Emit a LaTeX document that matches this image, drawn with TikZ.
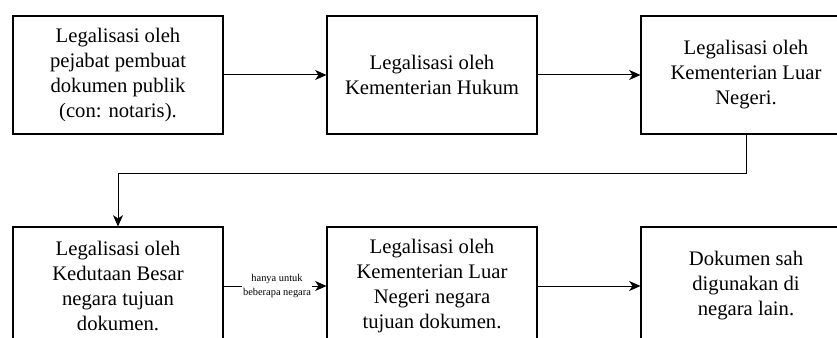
\documentclass[tikz,border=0pt]{standalone}
\usepackage{fontspec}
\setmainfont{Liberation Serif}
\usetikzlibrary{arrows.meta}

\begin{document}
\begin{tikzpicture}[
    x=0.75pt, y=-0.75pt,
    stepbox/.style={draw, line width=0.8pt, minimum width=157.5pt, minimum height=88.5pt,
        inner sep=0pt, align=center, font=\fontsize{15.5}{18.75}\selectfont},
    arrow/.style={-{Stealth[length=8.5pt, width=7.5pt, inset=2.5pt]}, line width=0.75pt},
    note/.style={fill=white, inner sep=1pt, align=center, font=\fontsize{7.8}{10.5}\selectfont}
]
\useasboundingbox (0,0) rectangle (837,338);
\clip (0,0) rectangle (837,338);

% top row
\node[stepbox] (notaris) at (118,75) {Legalisasi oleh\\pejabat pembuat\\dokumen publik\\(con: notaris).};
\node[stepbox] (kemkum) at (432,75) {Legalisasi oleh\\Kementerian Hukum};
\node[stepbox] (kemlu) at (746,75) {Legalisasi oleh\\Kementerian Luar\\Negeri.};

% bottom row
\node[stepbox] (kedubes) at (118,286) {Legalisasi oleh\\Kedutaan Besar\\negara tujuan\\dokumen.};
\node[stepbox] (kemlutujuan) at (432,286) {Legalisasi oleh\\Kementerian Luar\\Negeri negara\\tujuan dokumen.};
\node[stepbox] (sah) at (746,286) {Dokumen sah\\digunakan di\\negara lain.};

\draw[arrow] (notaris) -- (kemkum);
\draw[arrow] (kemkum) -- (kemlu);
\draw[arrow] (kemlu.south) -- ++(0,39) -| (kedubes.north);
\draw[arrow] (kedubes) -- node[note, xshift=1.5pt] {hanya untuk\\beberapa negara} (kemlutujuan);
\draw[arrow] (kemlutujuan) -- (sah);

\end{tikzpicture}
\end{document}
